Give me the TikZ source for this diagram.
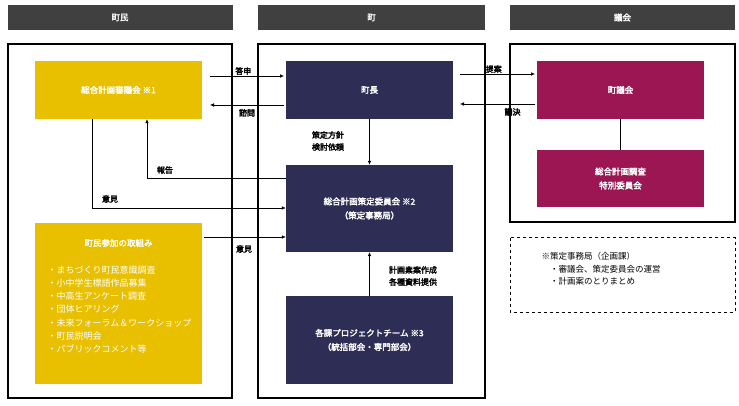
\documentclass[tikz,border=0pt]{standalone}
\usepackage{fontspec}
\setmainfont{Noto Sans CJK JP}[AutoFakeBold=2.5]
\usetikzlibrary{arrows.meta}
\definecolor{hdr}{HTML}{404040}
\definecolor{gold}{HTML}{E8C000}
\definecolor{navy}{HTML}{2E2D55}
\definecolor{maroon}{HTML}{9B1652}
\tikzset{
 hbar/.style={fill=hdr,text=white,font=\bfseries\fontsize{8.5}{9}\selectfont,minimum height=25pt,minimum width=225pt,inner sep=0},
 frame/.style={draw=black,line width=1.6pt},
 ybox/.style={fill=gold,text=white,font=\bfseries\fontsize{8.5}{10}\selectfont,align=center},
 nbox/.style={fill=navy,text=white,font=\bfseries\fontsize{8.5}{14}\selectfont,align=center},
 mbox/.style={fill=maroon,text=white,font=\bfseries\fontsize{8.5}{14}\selectfont,align=center},
 arr/.style={-{Latex[length=4pt,width=3.5pt]},line width=0.5pt},
 lab/.style={font=\bfseries\fontsize{8}{12}\selectfont,inner sep=1pt,align=left}
}
\begin{document}
\begin{tikzpicture}[x=1pt,y=-1pt]
\useasboundingbox (0,0) rectangle (739,406);
\node[hbar] (h1) at (120,17.5) {町民};
\node[hbar,minimum width=227pt] (h2) at (371.5,17.5) {町};
\node[hbar] (h3) at (622.5,17.5) {議会};
\draw[frame] (8,44) rectangle (232,398);
\draw[frame] (258,44) rectangle (485,398);
\draw[frame] (510,44) rectangle (735,222);
\draw[dashed,line width=1pt] (510,238) rectangle (735,312);
\node[ybox,minimum width=167pt,minimum height=58pt] (sin) at (118.5,90) {総合計画審議会 ※1};
\node[fill=gold,minimum width=167pt,minimum height=161pt] (par) at (118.5,303.5) {};
\node[text=white,font=\bfseries\fontsize{8.5}{10}\selectfont] (parT) at (118.5,243) {町民参加の取組み};
\node[text=white,font=\fontsize{9}{13.3}\selectfont,align=left,anchor=north west] (parL) at (44,262) {・まちづくり町民意識調査\\・小中学生標語作品募集\\・中高生アンケート調査\\・団体ヒアリング\\・未来フォーラム＆ワークショップ\\・町民説明会\\・パブリックコメント等};
\node[nbox,minimum width=167pt,minimum height=58pt] (cho) at (369.5,90) {町長};
\node[nbox,minimum width=167pt,minimum height=87pt] (iin) at (369.5,208.5) {総合計画策定委員会 ※2\\（策定事務局）};
\node[nbox,minimum width=167pt,minimum height=88pt] (pj) at (369.5,340) {各課プロジェクトチーム ※3\\（統括部会・専門部会）};
\node[mbox,minimum width=167pt,minimum height=58pt] (gik) at (620.5,90) {町議会};
\node[mbox,minimum width=167pt,minimum height=57pt] (tok) at (620.5,178.5) {総合計画調査\\特別委員会};
\draw (gik) -- (tok);
\node[font=\fontsize{8.5}{12.5}\selectfont,align=left,anchor=north west] (note) at (538,249) {※策定事務局（企画課）\\\quad・審議会、策定委員会の運営\\\quad・計画案のとりまとめ};
\coordinate (a1) at (210,76); \coordinate (a2) at (284,76);
\draw[arr] (a1) -- (a2) node[lab,pos=0.45,above] {答申};
\coordinate (b1) at (284,105); \coordinate (b2) at (210,105);
\draw[arr] (b1) -- (b2) node[lab,pos=0.5,below,yshift=-3pt] {諮問};
\draw[arr] (cho.south) -- (iin.north);
\node[lab] (l3) at (328,141) {策定方針\\検討依頼};
\coordinate (r1) at (147,178);
\draw[arr] (iin.west |- r1) -- (r1) -- (sin.south -| r1);
\node[lab] (l4) at (165,170) {報告};
\coordinate (o1) at (92,208);
\draw[arr] (sin.south -| o1) -- (o1) -- (iin.west |- o1);
\node[lab] (l5) at (110,199) {意見};
\coordinate (o2) at (204,237);
\draw[arr] (o2) -- (iin.west |- o2);
\node[lab] (l6) at (244,249) {意見};
\draw[arr] (pj.north) -- (iin.south);
\node[lab] (l7) at (413,276) {計画素案作成\\各種資料提供};
\coordinate (c1) at (460,74); \coordinate (c2) at (535,74);
\draw[arr] (c1) -- (c2) node[lab,pos=0.45,above] {提案};
\coordinate (d1) at (535,104); \coordinate (d2) at (460,104);
\draw[arr] (d1) -- (d2) node[lab,pos=0.3,below,yshift=-3pt] {議決};
\end{tikzpicture}
\end{document}
